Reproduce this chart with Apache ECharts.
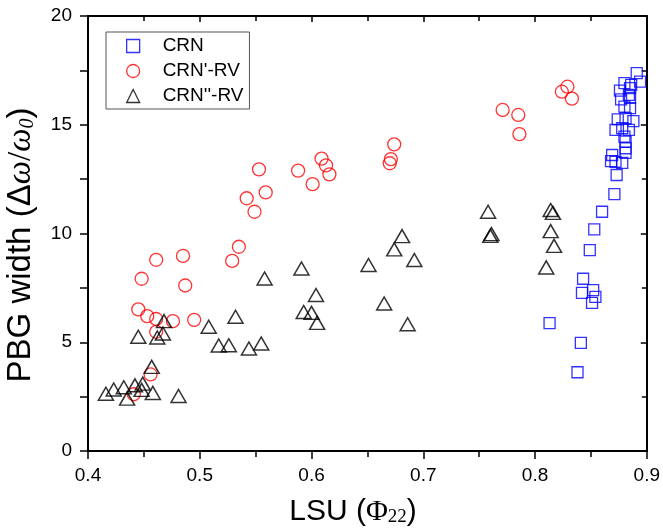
<!DOCTYPE html>
<html>
<head>
<meta charset="utf-8">
<title>PBG width vs LSU</title>
<script src="https://cdn.jsdelivr.net/npm/echarts@6/dist/echarts.min.js"></script>
<style>
  html, body { margin: 0; padding: 0; background: #fff; }
  #chart { width: 663px; height: 531px; }
</style>
</head>
<body>
<div id="chart"></div>
<script>
// Axis ticks
const xTicks = [0.4, 0.5, 0.6, 0.7, 0.8, 0.9];
const yTicks = [0, 5, 10, 15, 20];

// Series names
const seriesNames = ['CRN', "CRN'-RV", "CRN''-RV"];

// CRN
const crnX = [0.891, 0.894, 0.880, 0.886, 0.876, 0.885, 0.884, 0.877, 0.885, 0.880,
              0.885, 0.874, 0.881, 0.888, 0.872, 0.878, 0.884, 0.880, 0.881, 0.881,
              0.881, 0.869, 0.868, 0.872, 0.878, 0.873, 0.871, 0.860, 0.853, 0.849,
              0.843, 0.842, 0.852, 0.854, 0.851, 0.841, 0.838, 0.813];
const crnY = [17.37, 16.98, 16.91, 16.83, 16.57, 16.68, 16.37, 16.17, 16.24, 15.83,
              15.76, 15.25, 15.30, 15.17, 14.76, 14.84, 14.76, 14.45, 14.22, 13.92,
              13.71, 13.61, 13.33, 13.30, 13.25, 12.69, 11.81, 11.00, 10.19, 9.24,
              7.92, 7.27, 7.40, 7.09, 6.81, 4.97, 3.62, 5.88];

// CRN'-RV
const rv1X = [0.461, 0.485, 0.529, 0.535, 0.448, 0.487, 0.445, 0.453, 0.461, 0.476,
              0.495, 0.461, 0.456, 0.441, 0.553, 0.588, 0.559, 0.542, 0.549, 0.609,
              0.613, 0.616, 0.601, 0.674, 0.671, 0.670, 0.771, 0.785, 0.786, 0.824,
              0.829, 0.833];
const rv1Y = [8.79, 8.97, 8.74, 9.39, 7.92, 7.61, 6.51, 6.20, 6.07, 5.97,
              6.03, 5.48, 3.52, 2.61, 12.95, 12.89, 11.89, 11.62, 11.00, 13.44,
              13.13, 12.72, 12.27, 14.10, 13.42, 13.23, 15.68, 15.45, 14.57, 16.52,
              16.75, 16.20];

// CRN''-RV
const rv2X = [0.591, 0.558, 0.532, 0.593, 0.600, 0.468, 0.508, 0.467, 0.445, 0.462,
              0.517, 0.526, 0.544, 0.555, 0.457, 0.416, 0.423, 0.432, 0.435, 0.442,
              0.449, 0.448, 0.458, 0.481, 0.681, 0.674, 0.692, 0.651, 0.604, 0.605,
              0.665, 0.686, 0.758, 0.761, 0.760, 0.814, 0.816, 0.814, 0.817, 0.810];
const rv2Y = [8.39, 7.93, 6.17, 6.39, 6.35, 5.97, 5.71, 5.40, 5.25, 5.22,
              4.85, 4.86, 4.71, 4.94, 3.87, 2.63, 2.83, 2.93, 2.41, 3.02,
              3.10, 2.81, 2.67, 2.53, 9.88, 9.27, 8.78, 8.55, 7.17, 5.89,
              6.78, 5.83, 11.00, 9.97, 9.89, 11.08, 10.95, 10.11, 9.43, 8.44];

const pairs = (xs, ys) => xs.map((x, i) => [x, ys[i]]);

const SANS = 'Liberation Sans';
const SERIF = 'Liberation Serif';

const xMin = xTicks[0], xMax = xTicks[xTicks.length - 1], xStep = +(xTicks[1] - xTicks[0]).toFixed(3);
const yMin = yTicks[0], yMax = yTicks[yTicks.length - 1], yStep = yTicks[1] - yTicks[0];

function axisBase(extra) {
  return Object.assign({
    type: 'value',
    axisLine: { show: true, onZero: false, lineStyle: { color: '#000', width: 2 } },
    splitLine: { show: false },
    minorSplitLine: { show: false }
  }, extra);
}

const chart = echarts.init(document.getElementById('chart'), null, { renderer: 'canvas' });

chart.setOption({
  animation: false,
  backgroundColor: '#fff',
  grid: { left: 88, right: 14, top: 16, bottom: 80, containLabel: false },
  xAxis: [
    axisBase({
      position: 'bottom', min: xMin, max: xMax, interval: xStep,
      axisTick: { show: true, inside: false, length: 8, lineStyle: { color: '#000', width: 1.5 } },
      minorTick: { show: true, splitNumber: 2, length: 6, lineStyle: { color: '#000', width: 1.5 } },
      axisLabel: { show: true, margin: 15, fontSize: 19, fontFamily: SANS, color: '#000',
                   formatter: v => v.toFixed(1) }
    }),
    axisBase({
      position: 'top', min: xMin, max: xMax, interval: xStep,
      axisTick: { show: true, inside: true, length: 6, lineStyle: { color: '#000', width: 1.5 } },
      minorTick: { show: true, splitNumber: 2, length: 5, lineStyle: { color: '#000', width: 1.5 } },
      axisLabel: { show: false }
    })
  ],
  yAxis: [
    axisBase({
      position: 'left', min: yMin, max: yMax, interval: yStep,
      axisTick: { show: true, inside: false, length: 8, lineStyle: { color: '#000', width: 1.5 } },
      minorTick: { show: true, splitNumber: 2, length: 8, lineStyle: { color: '#000', width: 1.5 } },
      axisLabel: { show: true, margin: 16, fontSize: 19, fontFamily: SANS, color: '#000' }
    }),
    axisBase({
      position: 'right', min: yMin, max: yMax, interval: yStep,
      axisTick: { show: true, inside: true, length: 6, lineStyle: { color: '#000', width: 1.5 } },
      minorTick: { show: true, splitNumber: 2, length: 5, lineStyle: { color: '#000', width: 1.5 } },
      axisLabel: { show: false }
    })
  ],
  legend: {
    orient: 'vertical',
    left: 106, top: 32,
    padding: [4, 6, 3, 20],
    itemWidth: 13, itemHeight: 13, itemGap: 5,
    borderColor: '#555', borderWidth: 1, backgroundColor: '#fff',
    selectedMode: false,
    itemStyle: { borderWidth: 1.3 },
    textStyle: { fontSize: 19, fontFamily: SANS, color: '#000', lineHeight: 20, padding: [0, 0, 0, 18] },
    data: seriesNames
  },
  series: [
    {
      name: seriesNames[0], type: 'scatter', symbol: 'rect', symbolSize: 11,
      itemStyle: { color: 'rgba(0,0,0,0)', borderColor: '#0000ff', borderWidth: 1.3 },
      emphasis: { disabled: true },
      data: pairs(crnX, crnY)
    },
    {
      name: seriesNames[1], type: 'scatter', symbol: 'circle', symbolSize: 13,
      itemStyle: { color: 'rgba(0,0,0,0)', borderColor: '#ff0000', borderWidth: 1.3 },
      emphasis: { disabled: true },
      data: pairs(rv1X, rv1Y)
    },
    {
      name: seriesNames[2], type: 'scatter', symbol: 'triangle', symbolSize: [15, 13],
      itemStyle: { color: 'rgba(0,0,0,0)', borderColor: '#000000', borderWidth: 1.5 },
      emphasis: { disabled: true },
      data: pairs(rv2X, rv2Y)
    }
  ],
  graphic: [
    {
      // x-axis title: LSU (Φ22)
      type: 'text', x: 353, y: 512, silent: true,
      style: {
        text: '{a|LSU (}{b|Φ}{s|22}{a|)}',
        align: 'center', verticalAlign: 'middle',
        rich: {
          a: { fontSize: 30, fontFamily: SANS, fill: '#000', lineHeight: 30 },
          b: { fontSize: 30, fontFamily: SERIF, fill: '#000', lineHeight: 30 },
          s: { fontSize: 19, fontFamily: SERIF, fill: '#000', lineHeight: 12, verticalAlign: 'bottom' }
        }
      }
    },
    {
      // y-axis title: PBG width (Δω/ω0)
      type: 'text', x: 21, y: 245, rotation: Math.PI / 2, silent: true,
      style: {
        text: '{a|PBG width (}{a|Δ}{w|ω}{r|/}{w|ω}{s|0}{a|)}',
        align: 'center', verticalAlign: 'middle',
        rich: {
          a: { fontSize: 33, fontFamily: SANS, fill: '#000', lineHeight: 33 },
          w: { fontSize: 33, fontFamily: SERIF, fontStyle: 'italic', fill: '#000', lineHeight: 33 },
          r: { fontSize: 33, fontFamily: SERIF, fill: '#000', lineHeight: 33 },
          s: { fontSize: 20, fontFamily: SERIF, fontStyle: 'italic', fill: '#000', lineHeight: 12, verticalAlign: 'bottom' }
        }
      }
    }
  ]
});
</script>
</body>
</html>
